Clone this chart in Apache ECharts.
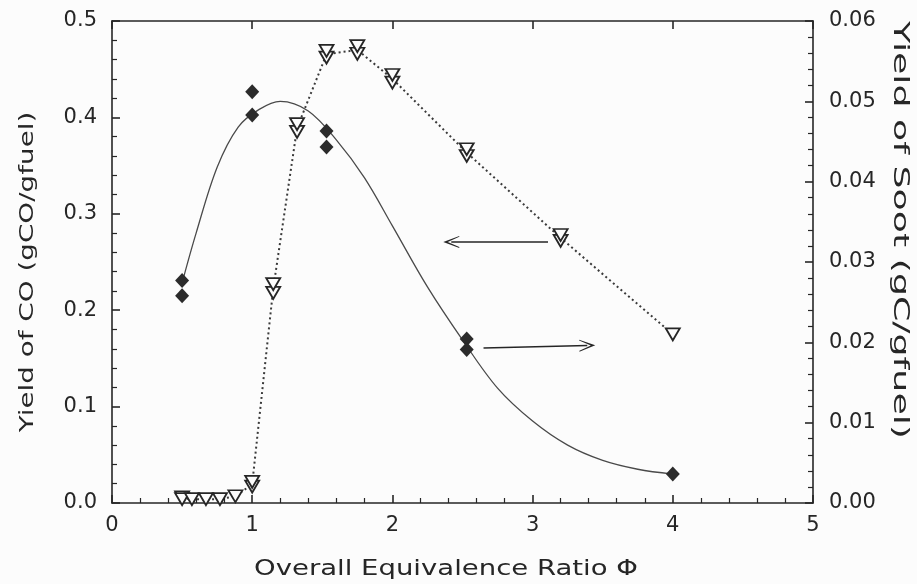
<!DOCTYPE html>
<html>
<head>
<meta charset="utf-8">
<script src="https://cdn.jsdelivr.net/npm/echarts@6/dist/echarts.min.js"></script>
<style>
  html, body { margin: 0; padding: 0; background: #fcfcfc; }
  #chart { width: 917px; height: 584px; }
</style>
</head>
<body>
<div id="chart"></div>
<script>
// CO yield (left axis), open triangles; pairs are repeat runs at the same phi
var coPhi   = [0.50, 0.50, 0.57, 0.67, 0.77, 0.88, 1.00, 1.00, 1.15, 1.15, 1.32, 1.32, 1.53, 1.53, 1.75, 1.75, 2.00, 2.00, 2.53, 2.53, 3.20, 3.20, 4.00];
var coYield = [0.006, 0.004, 0.004, 0.004, 0.004, 0.007, 0.017, 0.022, 0.218, 0.227, 0.385, 0.393, 0.462, 0.469, 0.466, 0.474, 0.436, 0.444, 0.360, 0.367, 0.272, 0.278, 0.175];

// Soot yield (right axis), filled diamonds
var sootPhi   = [0.50, 0.50, 1.00, 1.00, 1.53, 1.53, 2.53, 2.53, 4.00];
var sootYield = [0.0277, 0.0258, 0.0512, 0.0483, 0.0463, 0.0443, 0.0204, 0.0191, 0.0036];

// Smooth fit drawn through the soot data
var fitPhi   = [0.50, 0.60, 0.75, 0.90, 1.05, 1.20, 1.40, 1.60, 1.80, 2.00, 2.25, 2.50, 2.75, 3.00, 3.25, 3.50, 3.75, 4.00];
var fitYield = [0.0274, 0.0336, 0.0418, 0.0468, 0.0490, 0.0500, 0.0488, 0.0452, 0.0405, 0.0345, 0.0269, 0.0203, 0.0143, 0.0102, 0.0072, 0.0053, 0.0042, 0.0036];

// Arrows telling which axis each curve belongs to (phi, soot-axis units)
var arrowToLeft  = [[3.11, 0.0325], [2.42, 0.0325]];
var arrowToRight = [[2.65, 0.0193], [3.39, 0.0196]];

var xTicks     = [0, 1, 2, 3, 4, 5];
var coTicks    = [0.0, 0.1, 0.2, 0.3, 0.4, 0.5];
var sootTicks  = [0.00, 0.01, 0.02, 0.03, 0.04, 0.05, 0.06];

var xTitle    = 'Overall Equivalence Ratio \u03A6';
var coTitle   = 'Yield of CO (gCO/gfuel)';
var sootTitle = 'Yield of Soot (gC/gfuel)';

var ink = '#262626';
var font = 'DejaVu Sans';

function pairs(xs, ys) {
  return xs.map(function (x, i) { return [x, ys[i]]; });
}

// dotted guide goes through the average of each group of repeat runs
function groupMeans(xs, ys) {
  var out = [];
  xs.forEach(function (x, i) {
    var last = out[out.length - 1];
    if (last && last.x === x) { last.s += ys[i]; last.n += 1; }
    else out.push({ x: x, s: ys[i], n: 1 });
  });
  return out.map(function (g) { return [g.x, g.s / g.n]; });
}

var chevron = 'path://M0,0 L7,18 L6,18 L0,5 L-6,18 L-7,18 Z';

var chart = echarts.init(document.getElementById('chart'), null, { renderer: 'canvas' });

var axisCommon = {
  axisLine: { show: true, onZero: false, lineStyle: { color: ink, width: 1.6 } },
  axisTick: { show: true, inside: true, length: 8, lineStyle: { color: ink, width: 1.6 } },
  minorTick: { show: true, splitNumber: 5, length: 5, lineStyle: { color: ink, width: 1.2 } },
  splitLine: { show: false }
};

// wide-set lettering for the axis titles
function title(text, x, y, rot, size, stretch) {
  return {
    type: 'text', x: x, y: y, rotation: rot, scaleX: stretch, silent: true,
    style: { text: text, font: size + 'px "' + font + '"', fill: ink,
             align: 'center', verticalAlign: 'middle' }
  };
}

chart.setOption({
  backgroundColor: '#fcfcfc',
  animation: false,
  grid: { left: 112, right: 104, top: 21, bottom: 81 },
  xAxis: [
    Object.assign({}, axisCommon, {
      type: 'value', min: xTicks[0], max: xTicks[xTicks.length - 1], interval: 1,
      position: 'bottom',
      axisLabel: { margin: 12, fontFamily: font, fontSize: 21, color: ink }
    }),
    Object.assign({}, axisCommon, {
      type: 'value', min: xTicks[0], max: xTicks[xTicks.length - 1], interval: 1,
      position: 'top',
      axisLabel: { show: false },
      minorTick: { show: false }
    })
  ],
  yAxis: [
    Object.assign({}, axisCommon, {
      type: 'value', min: coTicks[0], max: coTicks[coTicks.length - 1], interval: 0.1,
      position: 'left',
      axisLabel: { margin: 15, fontFamily: font, fontSize: 21, color: ink,
                   formatter: function (v) { return v.toFixed(1); } }
    }),
    Object.assign({}, axisCommon, {
      type: 'value', min: sootTicks[0], max: sootTicks[sootTicks.length - 1], interval: 0.01,
      position: 'right',
      axisLabel: { margin: 16, fontFamily: font, fontSize: 21, color: ink,
                   formatter: function (v) { return v.toFixed(2); } }
    })
  ],
  graphic: [
    title(xTitle, 446, 570, 0, 21, 1.31),
    title(coTitle, 28, 272, Math.PI / 2, 20, 1.39),
    title(sootTitle, 900, 230, -Math.PI / 2, 22, 1.65)
  ],
  series: [
    {
      name: 'CO guide', type: 'line', xAxisIndex: 0, yAxisIndex: 0,
      data: groupMeans(coPhi, coYield),
      showSymbol: false, symbol: 'none', silent: true, z: 2,
      lineStyle: { color: '#3a3a3a', width: 2, type: [2, 3] }
    },
    {
      name: 'CO', type: 'scatter', xAxisIndex: 0, yAxisIndex: 0,
      data: pairs(coPhi, coYield),
      symbol: 'triangle', symbolRotate: 180, symbolSize: [14, 12], z: 4,
      itemStyle: { color: '#fcfcfc', borderColor: ink, borderWidth: 1.8, opacity: 1 }
    },
    {
      name: 'Soot fit', type: 'line', xAxisIndex: 0, yAxisIndex: 1,
      data: pairs(fitPhi, fitYield),
      smooth: 0.35, showSymbol: false, symbol: 'none', z: 3,
      lineStyle: { color: '#4a4a4a', width: 1.3 },
      markLine: {
        silent: true, symbol: ['none', chevron], symbolSize: [12, 16],
        label: { show: false },
        lineStyle: { color: ink, width: 1.6, type: 'solid' },
        data: [
          [{ coord: arrowToLeft[0] }, { coord: arrowToLeft[1] }],
          [{ coord: arrowToRight[0] }, { coord: arrowToRight[1] }]
        ]
      }
    },
    {
      name: 'Soot', type: 'scatter', xAxisIndex: 0, yAxisIndex: 1,
      data: pairs(sootPhi, sootYield),
      symbol: 'diamond', symbolSize: [14, 15], z: 5,
      itemStyle: { color: '#2b2b2b', opacity: 1 }
    }
  ]
});
</script>
</body>
</html>
